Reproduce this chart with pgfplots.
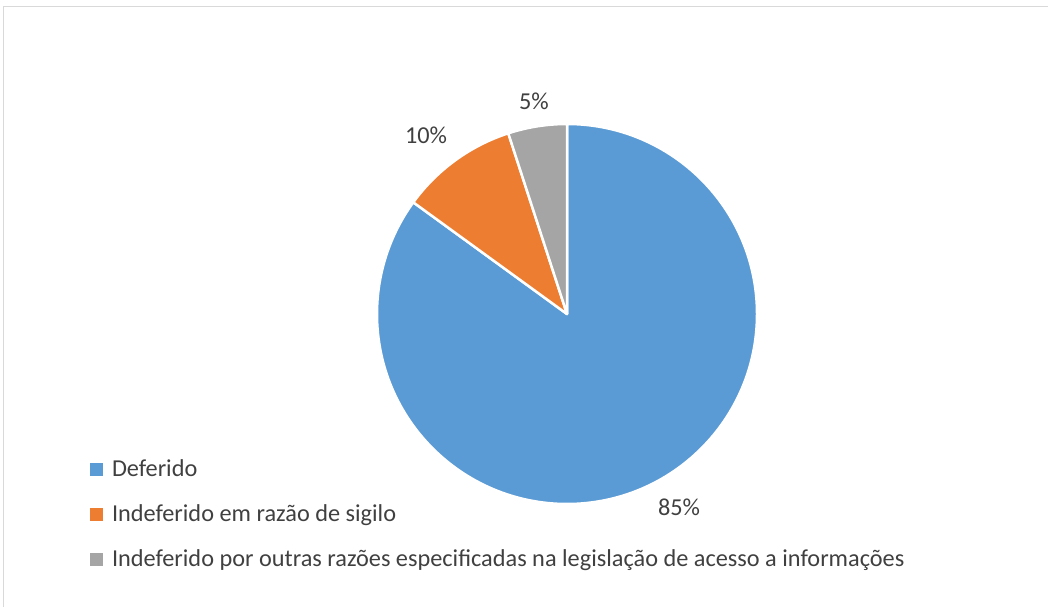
\documentclass[border=0pt]{standalone}
\usepackage{pgfplots}
\pgfplotsset{compat=1.18}
\usepackage{pgfplotstable}
\usepackage{fontspec}
\setmainfont{Carlito}
\definecolor{cblue}{HTML}{5B9BD5}
\definecolor{corange}{HTML}{ED7D31}
\definecolor{cgray}{HTML}{A5A5A5}
\definecolor{ctext}{HTML}{404040}
\definecolor{cframe}{HTML}{D9D9D9}
\pgfplotstableread{
value
85
10
5
}\piedata
\newcommand{\lfont}{\fontsize{24.3bp}{29bp}\selectfont}
\begin{document}
\begin{tikzpicture}
\pgfplotstablegetelem{0}{value}\of\piedata \edef\va{\pgfplotsretval}
\pgfplotstablegetelem{1}{value}\of\piedata \edef\vb{\pgfplotsretval}
\pgfplotstablegetelem{2}{value}\of\piedata \edef\vc{\pgfplotsretval}
\pgfmathsetmacro{\aA}{90}
\pgfmathsetmacro{\aB}{90-3.6*\va}
\pgfmathsetmacro{\aC}{\aB-3.6*\vb}
\pgfmathsetmacro{\aD}{\aC-3.6*\vc}
\begin{axis}[scale only axis, width=1048bp, height=607bp,
  xmin=0, xmax=1048, ymin=0, ymax=607, hide axis, clip=true,
  legend image code/.code={\fill[#1] (0bp,0bp) rectangle (13bp,13bp);},
  legend cell align=left,
  legend style={at={(axis cs:90,148)}, anchor=north west, draw=none, fill=none,
    inner sep=0pt, outer sep=0pt, font=\lfont, text=ctext, row sep=22bp, column sep=9bp,
    nodes={inner sep=0pt, anchor=base west, text height=17bp, text depth=6bp}},
]
\addplot[cframe, line width=1.3bp, mark=none, forget plot] coordinates {(3.5,0) (3.5,600.5) (1048,600.5)};
\addlegendimage{fill=cblue, draw=none}
\addlegendentry{Deferido}
\addlegendimage{fill=corange, draw=none}
\addlegendentry{Indeferido em razão de sigilo}
\addlegendimage{fill=cgray, draw=none}
\addlegendentry{Indeferido por outras razões especificadas na legislação de acesso a informações}
\fill[cblue, draw=white, line width=2.5bp, line join=round] (axis cs:567,293) -- ++(\aA:190bp) arc[start angle=\aA, end angle=\aB, radius=190bp] -- cycle;
\fill[corange, draw=white, line width=2.5bp, line join=round] (axis cs:567,293) -- ++(\aB:190bp) arc[start angle=\aB, end angle=\aC, radius=190bp] -- cycle;
\fill[cgray, draw=white, line width=2.5bp, line join=round] (axis cs:567,293) -- ++(\aC:190bp) arc[start angle=\aC, end angle=\aD, radius=190bp] -- cycle;
\node[text=ctext, font=\lfont] at (axis cs:534,506) {\vc\%};
\node[text=ctext, font=\lfont] at (axis cs:426,472) {\vb\%};
\node[text=ctext, font=\lfont] at (axis cs:679,100) {\va\%};
\end{axis}
\pgfresetboundingbox
\path[use as bounding box] (current axis.south west) rectangle (current axis.north east);
\end{tikzpicture}
\end{document}
